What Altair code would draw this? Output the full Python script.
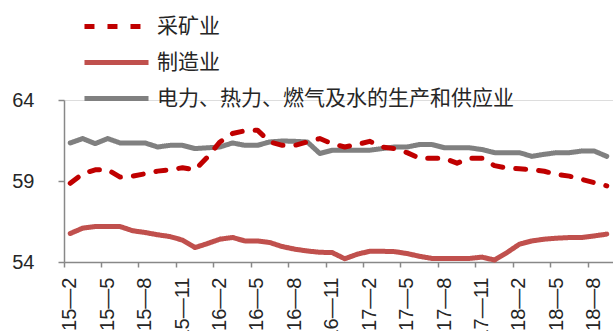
import altair as alt
import pandas as pd

# month categories 2015-02 .. 2018-09
months = [f"{y % 100}—{m}" for y in range(2015, 2019) for m in range(1, 13)
          if (y, m) >= (2015, 2) and (y, m) <= (2018, 9)]
tick_labels = months[::3]

series_names = ["采矿业", "制造业", "电力、热力、燃气及水的生产和供应业"]

mining = [58.86, 59.45, 59.69, 59.69, 59.24, 59.3, 59.45, 59.61, 59.69, 59.82,
          59.69, 60.48, 61.41, 61.93, 62.1, 62.14, 61.41, 61.2, 61.2, 61.41,
          61.62, 61.3, 61.1, 61.25, 61.45, 61.1, 61.0, 60.75, 60.4, 60.4,
          60.4, 60.1, 60.4, 60.4, 59.95, 59.8, 59.75, 59.7, 59.6, 59.4,
          59.3, 59.1, 58.9, 58.7]
manufacturing = [55.76, 56.09, 56.19, 56.19, 56.19, 55.93, 55.82, 55.68, 55.57, 55.35,
                 54.89, 55.14, 55.41, 55.51, 55.3, 55.3, 55.2, 54.95, 54.79, 54.68,
                 54.6, 54.58, 54.2, 54.48, 54.66, 54.66, 54.64, 54.52, 54.35, 54.22,
                 54.22, 54.22, 54.22, 54.3, 54.12, 54.58, 55.1, 55.3, 55.41, 55.47,
                 55.51, 55.51, 55.61, 55.72]
utility = [61.35, 61.62, 61.31, 61.62, 61.35, 61.35, 61.35, 61.1, 61.2, 61.2,
           61.0, 61.05, 61.1, 61.35, 61.2, 61.2, 61.41, 61.47, 61.45, 61.41,
           60.7, 60.9, 60.9, 60.9, 60.9, 61.0, 61.1, 61.1, 61.25, 61.25,
           61.05, 61.05, 61.05, 60.94, 60.75, 60.75, 60.75, 60.52, 60.65, 60.75,
           60.75, 60.85, 60.85, 60.52]

y_ticks = [54, 59, 64]
colors = ["#C00000", "#C0504D", "#808080"]
dashes = [[10, 13], [1, 0], [1, 0]]

rows = []
for name, vals in [(series_names[2], utility), (series_names[1], manufacturing), (series_names[0], mining)]:
    for m, v in zip(months, vals):
        rows.append({"month": m, "value": v, "series": name})
df = pd.DataFrame(rows)

legend = alt.Legend(
    title=None, orient="none", legendX=42, legendY=-84,
    symbolType="M-5,0H5", symbolSize=164, symbolStrokeWidth=5,
    labelFont="Noto Sans CJK SC", labelFontSize=21, labelColor="#262626",
    labelOffset=30, rowPadding=14, padding=0, labelLimit=600,
)

chart = alt.Chart(df).mark_line(strokeWidth=5, strokeCap="round", strokeJoin="round").encode(
    x=alt.X("month:O", sort=months, bandPosition=0.5,
            scale=alt.Scale(type="band", domain=months, paddingInner=0, paddingOuter=0),
            axis=alt.Axis(title=None, values=tick_labels, bandPosition=0, labelAngle=270,
                          labelFont="Liberation Sans", labelFontSize=20, labelColor="#262626",
                          labelPadding=10, tickSize=5, tickColor="#888888", domainColor="#888888",
                          domainWidth=1.5, tickWidth=1.5, grid=False)),
    y=alt.Y("value:Q", scale=alt.Scale(domain=[54, 64], nice=False, zero=False),
            axis=alt.Axis(title=None, values=y_ticks, labelFont="Liberation Sans",
                          labelFontSize=20, labelColor="#262626", labelPadding=24,
                          tickSize=6, tickColor="#888888", domainColor="#888888",
                          domainWidth=1.5, tickWidth=1.5, grid=False)),
    color=alt.Color("series:N", scale=alt.Scale(domain=series_names, range=colors), legend=legend),
    strokeDash=alt.StrokeDash("series:N", scale=alt.Scale(domain=series_names, range=dashes), legend=legend),
    order=alt.Order("series:N"),
).properties(
    width=549, height=162,
    autosize=alt.AutoSizeParams(type="none"),
    padding={"left": 64, "top": 100, "right": 0, "bottom": 69},
).configure_view(stroke=None).configure(background="white")

chart.save("out.html", embed_options={"renderer": "svg", "actions": False})
